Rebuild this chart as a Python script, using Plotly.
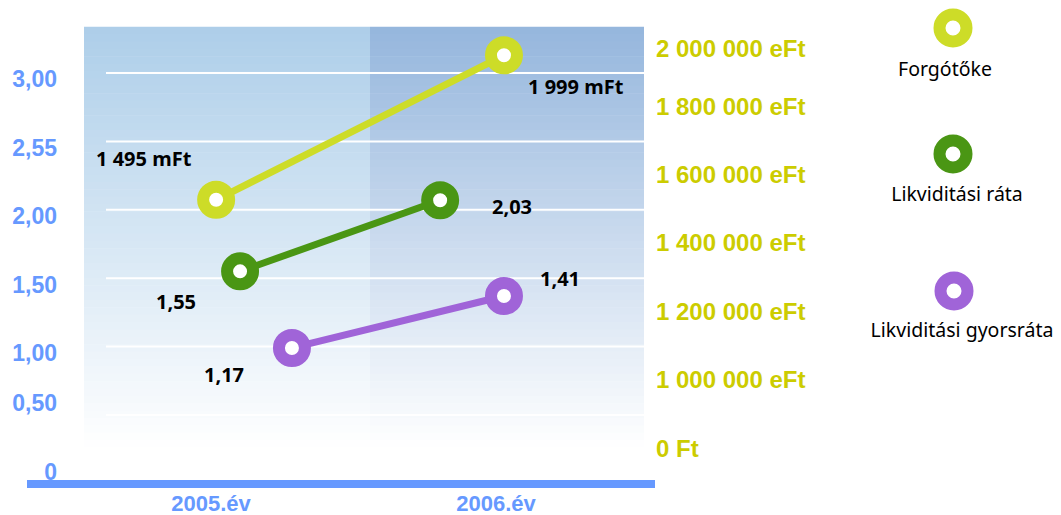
import plotly.graph_objects as go

# ---------------- data ----------------
YEARS = ["2005.év", "2006.év"]
SERIES_NAMES = ["Forgótőke", "Likviditási ráta", "Likviditási gyorsráta"]

FORGOTOKE = [1530000, 1955000]              # eFt, as drawn (right axis)
FORGOTOKE_LABELS = ["1 495 mFt", "1 999 mFt"]
LIKV_RATA = [1.55, 2.07]                    # as drawn (left axis)
LIKV_RATA_LABELS = ["1,55", "2,03"]
GYORS_RATA = [0.99, 1.37]                   # as drawn (left axis)
GYORS_RATA_LABELS = ["1,17", "1,41"]

LEFT_TICK_TEXT = ["0", "0,50", "1,00", "1,50", "2,00", "2,55", "3,00"]
RIGHT_TICK_TEXT = ["0 Ft", "1 000 000 eFt", "1 200 000 eFt", "1 400 000 eFt",
                   "1 600 000 eFt", "1 800 000 eFt", "2 000 000 eFt"]

# ---------------- styling / layout geometry ----------------
W, H = 1061, 515
ML, MR, MT, MB = 27, 0, 0, 35
PLOT_W = W - ML - MR
PLOT_H = H - MT - MB
X_RIGHT_PX = 655

def xv(px):          # pixel -> x value
    return (px - 211) / 285.0

def yv(py):          # pixel -> left-axis value
    return (483.4 - py) / 136.8

def y2v(py):         # pixel -> right-axis value
    return 1e6 + (380 - py) / 340.0 * 1e6

LEFT_TICK_PX = [472, 403, 353, 285, 216, 148, 79]
RIGHT_TICK_PX = [449, 380, 312, 243, 175, 107, 49]

C_FORG = "#cddc28"
C_RATA = "#4a9614"
C_GYORS = "#a064d8"
C_AXIS = "#6699ff"
C_RIGHT = "#cccc00"

# horizontal dodge of each series' points around the category centre
DODGE = {
    "Forgótőke": [0.018, 0.028],
    "Likviditási ráta": [0.102, -0.196],
    "Likviditási gyorsráta": [0.284, 0.028],
}
# label offsets (px) from each point
LABEL_SHIFT = {
    "Forgótőke": [(-72, 41), (72, -31)],
    "Likviditási ráta": [(-64, -30), (72, -6)],
    "Likviditási gyorsráta": [(-68, -27), (56, 17)],
}

fig = go.Figure()

# ---------------- background gradient panel ----------------
def blend(c, t):
    return "rgb(%d,%d,%d)" % tuple(round(a + (255 - a) * t) for a in c)

shapes = []
top_px, bot_px = 27, 470
N = 60
cols = [((84, 370), (173, 206, 233)), ((370, 644), (149, 182, 221))]
for (x0p, x1p), c in cols:
    for i in range(N):
        p0 = top_px + (bot_px - top_px) * i / N
        p1 = top_px + (bot_px - top_px) * (i + 1) / N
        t = min(1.0, (i + 0.5) / N * 1.05)
        shapes.append(dict(type="rect", xref="x", yref="y",
                           x0=xv(x0p), x1=xv(x1p), y0=yv(p1) - 0.002, y1=yv(p0) + 0.002,
                           fillcolor=blend(c, t), line=dict(width=0), layer="below"))
# white grid lines
for g in [0.5, 1.0, 1.5, 2.0, 2.5, 3.0]:
    shapes.append(dict(type="line", xref="x", yref="y", x0=xv(106), x1=xv(644), y0=g, y1=g,
                       line=dict(color="white", width=2), layer="below"))

# ---------------- series ----------------
series = [
    ("Forgótőke", FORGOTOKE, FORGOTOKE_LABELS, C_FORG, "y2"),
    ("Likviditási ráta", LIKV_RATA, LIKV_RATA_LABELS, C_RATA, "y"),
    ("Likviditási gyorsráta", GYORS_RATA, GYORS_RATA_LABELS, C_GYORS, "y"),
]
annotations = []
for name, vals, labels, color, yax in series:
    xs = [i + d for i, d in enumerate(DODGE[name])]
    fig.add_trace(go.Scatter(
        x=xs, y=vals, mode="lines+markers", name=name, yaxis=yax, xaxis="x",
        line=dict(color=color, width=7),
        marker=dict(symbol="circle", size=26, color="white", line=dict(color=color, width=12)),
        showlegend=False, cliponaxis=False, hoverinfo="skip"))
    for x, v, lab, (dx, dy) in zip(xs, vals, labels, LABEL_SHIFT[name]):
        annotations.append(dict(x=x, y=v, xref="x", yref=yax, text=lab, showarrow=False,
                                xshift=dx, yshift=dy,
                                font=dict(family="Noto Sans", size=20, color="black", weight="bold")))

# ---------------- custom legend (marker above text) ----------------
LEG_MARK = [(953, 28), (953, 154), (954, 291)]
LEG_TEXT = [(945, 71), (957, 196), (962, 332)]
for (name, _, _, color, _), (mx, my), (tx, ty) in zip(series, LEG_MARK, LEG_TEXT):
    fig.add_trace(go.Scatter(
        x=[mx], y=[my], xaxis="x3", yaxis="y3", mode="markers",
        marker=dict(symbol="circle", size=27, color="white", line=dict(color=color, width=12)),
        showlegend=False, hoverinfo="skip", cliponaxis=False))
    fig.add_trace(go.Scatter(
        x=[tx], y=[ty], xaxis="x3", yaxis="y3", mode="text", text=[name],
        textposition="middle center",
        textfont=dict(family="Noto Sans", size=19.5, color="black"),
        showlegend=False, hoverinfo="skip", cliponaxis=False))

def tick_font(color, size=23):
    return dict(family="Liberation Sans, Arial", size=size, weight="bold", color=color)

fig.update_layout(
    width=W, height=H,
    margin=dict(l=ML, r=MR, t=MT, b=MB, autoexpand=False),
    paper_bgcolor="white", plot_bgcolor="white",
    shapes=shapes, annotations=annotations,
    xaxis=dict(domain=[0, (X_RIGHT_PX - ML) / PLOT_W], range=[xv(ML), xv(X_RIGHT_PX)],
               tickvals=[0, 1], ticktext=YEARS, ticks="", showgrid=False, zeroline=False,
               showline=True, linecolor=C_AXIS, linewidth=8, ticklabelstandoff=-3,
               tickfont=tick_font(C_AXIS, 22), fixedrange=True),
    yaxis=dict(range=[yv(PLOT_H), yv(0)], anchor="free", position=(57 - ML) / PLOT_W,
               tickvals=[yv(p) for p in LEFT_TICK_PX], ticktext=LEFT_TICK_TEXT,
               ticks="", showgrid=False, zeroline=False, showline=False,
               tickfont=tick_font(C_AXIS), fixedrange=True),
    yaxis2=dict(range=[y2v(PLOT_H), y2v(0)], overlaying="y", side="right", anchor="x",
                tickvals=[y2v(p) for p in RIGHT_TICK_PX], ticktext=RIGHT_TICK_TEXT,
                ticks="", showgrid=False, zeroline=False, showline=False,
                tickfont=tick_font(C_RIGHT, 24), fixedrange=True),
    xaxis3=dict(domain=[0.62, 1.0], range=[ML + 0.62 * PLOT_W, W], visible=False, anchor="y3"),
    yaxis3=dict(domain=[0, 1], range=[PLOT_H, 0], visible=False, anchor="x3"),
)

fig.write_html("out.html",
               config={"displayModeBar": False, "staticPlot": True},
               post_script="document.body.style.margin='0px';document.body.style.overflow='hidden';")
